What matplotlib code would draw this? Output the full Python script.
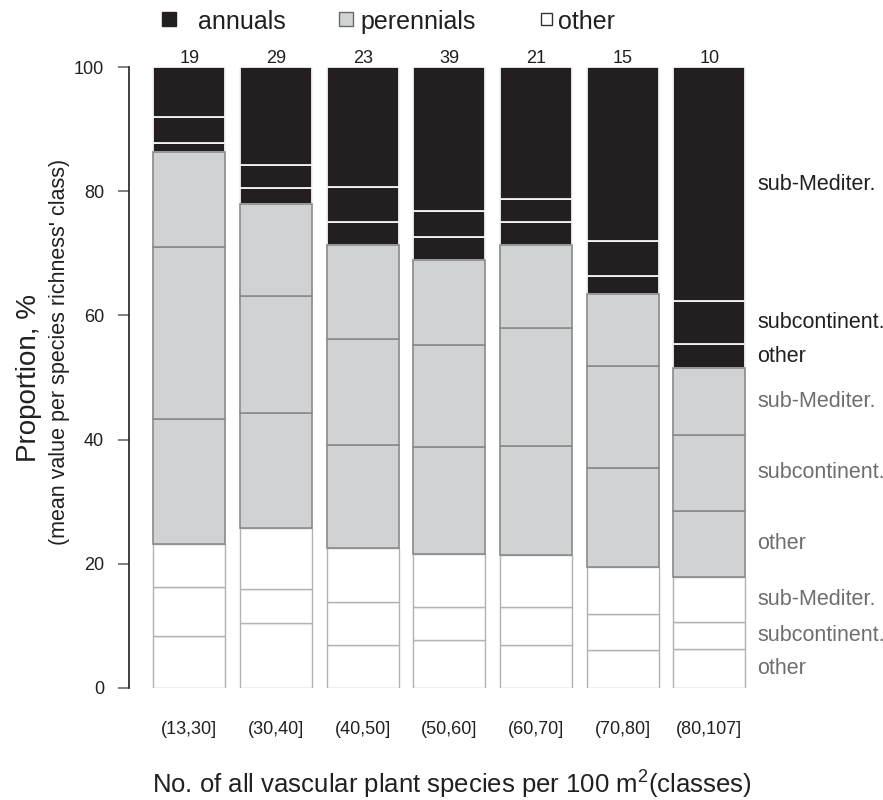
import numpy as np
import matplotlib.pyplot as plt
from matplotlib.patches import Rectangle

plt.rcParams['font.family'] = ['Liberation Sans', 'DejaVu Sans']
plt.rcParams['mathtext.default'] = 'regular'

# species richness classes and number of plots per class
classes = ['(13,30]', '(30,40]', '(40,50]', '(50,60]', '(60,70]', '(70,80]', '(80,107]']
n_plots = [19, 29, 23, 39, 21, 15, 10]

# mean proportions (%), stacked bottom -> top
other_other = [8.4, 10.4, 7.0, 7.7, 7.0, 6.1, 6.3]
other_subcont = [7.8, 5.5, 6.9, 5.4, 6.1, 5.8, 4.3]
other_submed = [7.0, 9.8, 8.7, 8.5, 8.3, 7.6, 7.3]
per_other = [20.1, 18.6, 16.6, 17.2, 17.5, 15.9, 10.6]
per_subcont = [27.7, 18.8, 17.0, 16.5, 19.0, 16.5, 12.3]
per_submed = [15.3, 14.8, 15.2, 13.6, 13.5, 11.5, 10.7]
ann_other = [1.5, 2.6, 3.6, 3.7, 3.6, 3.0, 3.9]
ann_subcont = [4.1, 3.7, 5.7, 4.2, 3.8, 5.6, 6.9]
ann_submed = [8.1, 15.8, 19.3, 23.2, 21.2, 28.0, 37.7]

seg_names = ['other', 'subcontinent.', 'sub-Mediter.']

W, H = 883, 800
fig = plt.figure(figsize=(W / 100, H / 100), dpi=100)
ax = fig.add_axes([129 / W, 1 - 688 / H, (W - 129) / W, (688 - 67) / H])

x = np.arange(len(classes))
bw = 0.831
step_px = 86.67
x_left = -(189.3 - 129) / step_px
ax.set_xlim(x_left, x_left + (W - 129) / step_px)
ax.set_ylim(0, 100)

dark = '#231f20'
groups = [
    ([other_other, other_subcont, other_submed], 'white', '#b2b2b2', 1.0, 2, '#6d6e70'),
    ([per_other, per_subcont, per_submed], '#d1d2d4', '#8a8a8a', 1.2, 4, '#6d6e70'),
    ([ann_other, ann_subcont, ann_submed], dark, '#f4f4f4', 1.3, 3, dark),
]

bottom = np.zeros(len(classes))
for series, fill, edge, lw, z, tcol in groups:
    for vals, name in zip(series, seg_names):
        vals = np.array(vals)
        ax.bar(x, vals, bw, bottom=bottom, color=fill, edgecolor=edge,
               linewidth=lw, zorder=z)
        # label at the middle of the last bar's segment
        mid = bottom[-1] + vals[-1] / 2
        ax.text(x[-1] + 0.55, mid, name, ha='left', va='center',
                fontsize=15.5, color=tcol)
        bottom = bottom + vals

for xi, n in zip(x, n_plots):
    ax.text(xi, 100.7, str(n), ha='center', va='baseline', fontsize=13,
            color=dark, clip_on=False)

for s in ['top', 'right', 'bottom']:
    ax.spines[s].set_visible(False)
ax.spines['left'].set_bounds(0, 100)
ax.spines['left'].set_color(dark)
ax.spines['left'].set_linewidth(1.2)
ax.set_yticks(range(0, 101, 20))
ax.tick_params(axis='y', length=8, width=1.2, color='#6a6a6a', pad=10,
               labelsize=13, labelcolor=dark)
ax.set_xticks(x, classes)
ax.tick_params(axis='x', length=0, pad=24, labelsize=13, labelcolor=dark)

# axis titles
fig.text(29 / W, 1 - 378 / H, 'Proportion, %', rotation=90, ha='center',
         va='center', fontsize=20, color=dark)
fig.text(60 / W, 1 - 352 / H, "(mean value per species richness' class)",
         rotation=90, ha='center', va='center', fontsize=15.5, color=dark)
fig.text(452 / W, 1 - 785 / H,
         'No. of all vascular plant species per 100 m$^2$(classes)',
         ha='center', va='center', fontsize=18.5, color=dark)

# legend across the top
legend_items = [
    ('annuals', dark, dark, 162, 14, 198),
    ('perennials', '#d1d2d4', '#6a6a6a', 339, 14, 360),
    ('other', 'white', '#333333', 541, 11, 558),
]
for label, fill, edge, sx, size, tx in legend_items:
    fig.add_artist(Rectangle((sx / W, 1 - (19 + size / 2) / H), size / W, size / H,
                             transform=fig.transFigure, facecolor=fill,
                             edgecolor=edge, linewidth=1))
    fig.text(tx / W, 1 - 29 / H, label, ha='left', va='baseline',
             fontsize=18, color=dark)

fig.savefig('out.png', dpi=100)
